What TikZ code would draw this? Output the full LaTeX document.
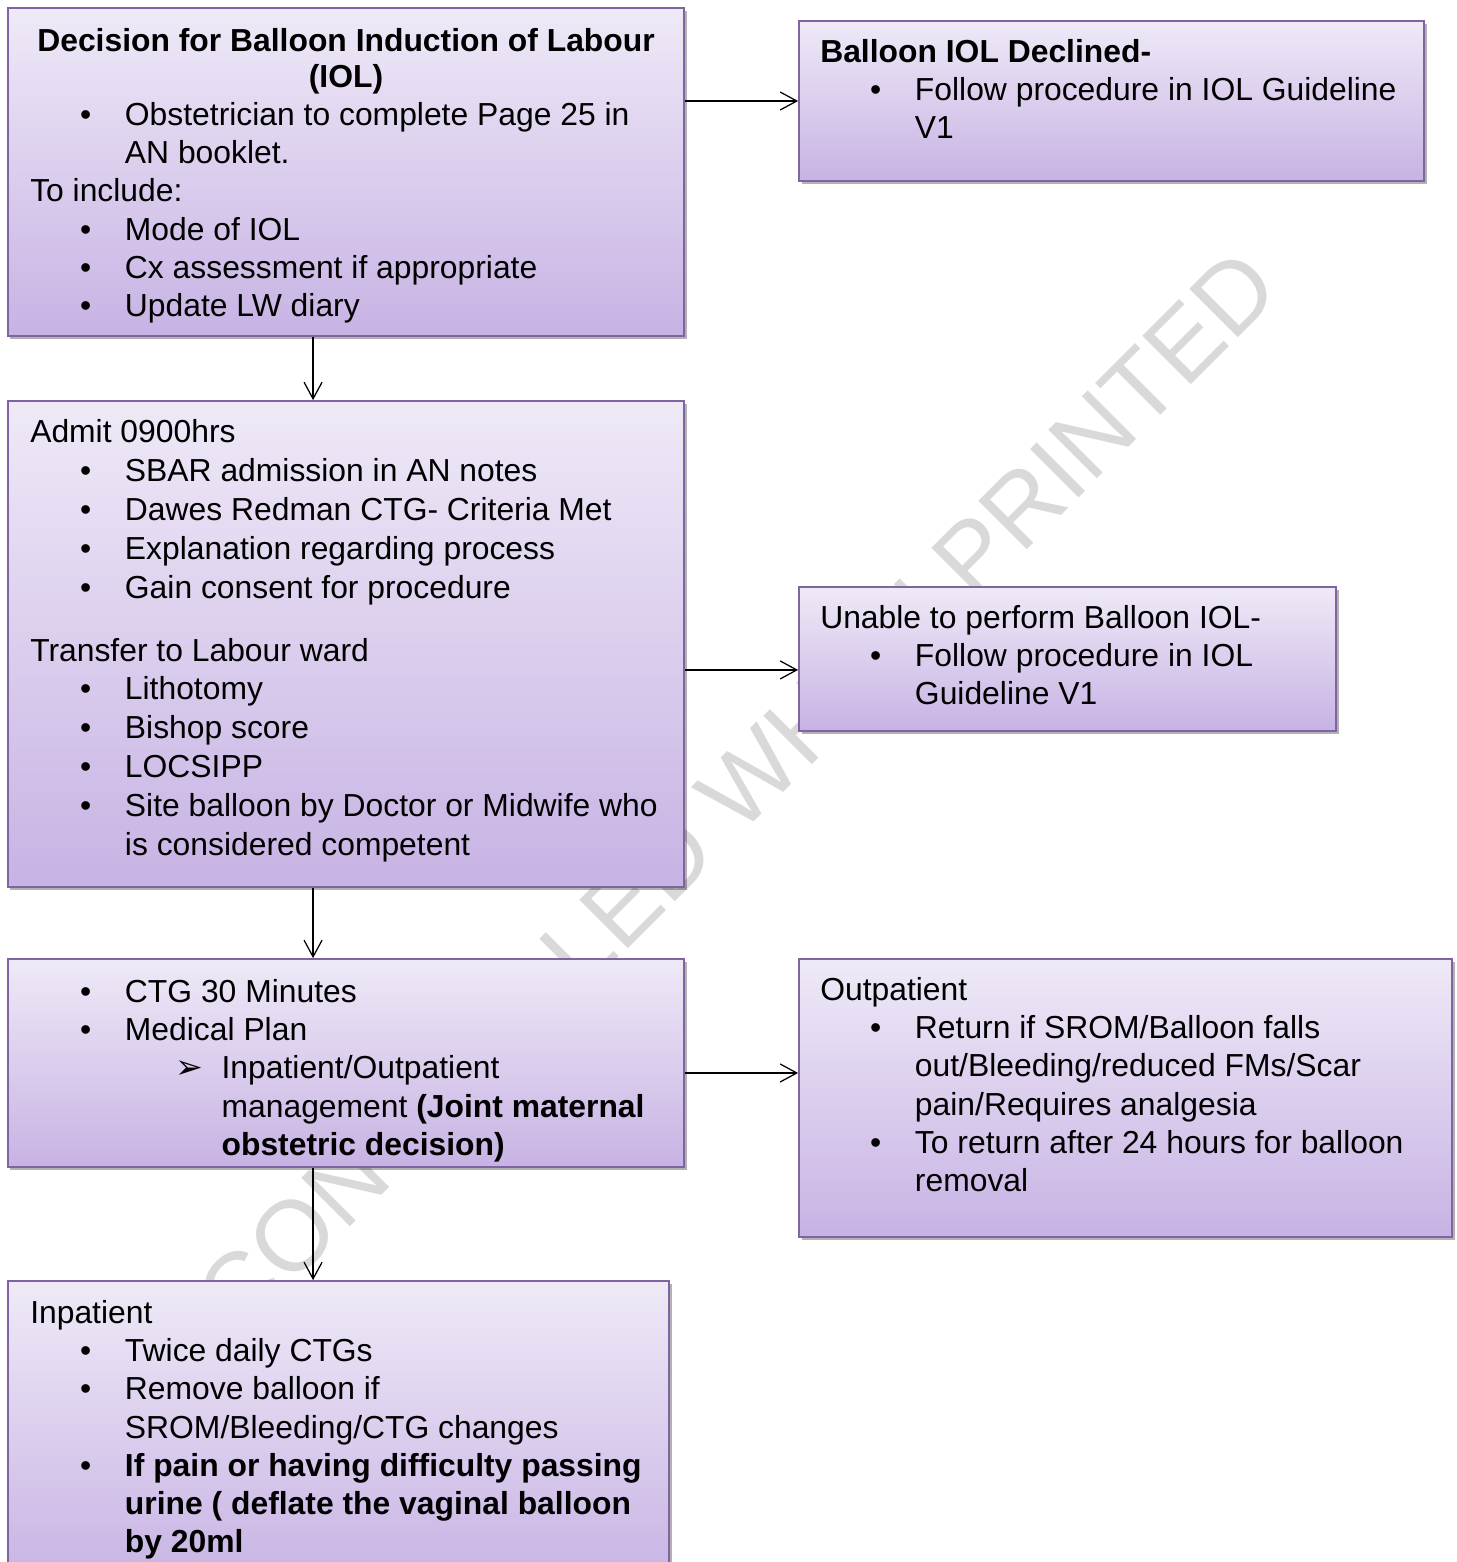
\documentclass[tikz,border=0pt]{standalone}
\usepackage{fontspec}
\setmainfont{Liberation Sans}
\newfontfamily\symfont{DejaVu Sans}
\usepackage{xcolor}
\usepackage{tikz}
\usetikzlibrary{arrows.meta,fit,shadows}

\definecolor{boxtop}{HTML}{EFE9F7}
\definecolor{boxbot}{HTML}{C7B3E4}
\definecolor{boxline}{HTML}{8064A2}
\definecolor{wmgray}{HTML}{D9D9D9}

\newcommand{\bul}{\hspace*{36pt}\makebox[32.4pt][l]{\textbullet}}
\newcommand{\cnt}{\hspace*{68.4pt}}
\newcommand{\subb}{\hspace*{105pt}\makebox[33.2pt][l]{\symfont\fontsize{24}{28}\selectfont ➢}}
\newcommand{\subc}{\hspace*{138.2pt}}
\newcommand{\topstrut}{\rule{0pt}{20pt}}

\tikzset{
  box/.style={draw=boxline, line width=1.3pt, top color=boxtop, bottom color=boxbot,
    inner sep=0pt, drop shadow={shadow xshift=1.8pt, shadow yshift=-2.2pt, opacity=0.3, fill=black}},
  txt/.style={anchor=north west, align=left, inner sep=0pt, font=\fontsize{23}{27.6}\selectfont,
    execute at begin node=\topstrut},
  head/.style={anchor=north, align=center, inner sep=0pt, font=\fontsize{23}{26}\selectfont\bfseries,
    execute at begin node=\topstrut},
  wmark/.style={text=wmgray, inner sep=0pt, font=\fontsize{72}{80}\selectfont},
  arr/.style={->, line width=0.9pt}
}

\begin{document}
\begin{tikzpicture}[x=0.01in,y=-0.01in,>={Straight Barb[length=12pt,width=13pt]}]
  \useasboundingbox[fill=white] (0,0) rectangle (1456,1562);

  \node[wmark, rotate=45] (wm) at (686,842) {UNCONTROLLED WHEN PRINTED};

  \node[box, fit={(8,8) (684,336)}] (dec) {};
  \node[box, fit={(799,21) (1424,181)}] (decl) {};
  \node[box, fit={(8,401) (684,887)}] (adm) {};
  \node[box, fit={(799,587) (1336,731)}] (una) {};
  \node[box, fit={(8,959) (684,1167)}] (ctg) {};
  \node[box, fit={(799,959) (1452,1237)}] (outp) {};
  \node[box, fit={(8,1281) (669,1585)}] (inp) {};

  \node[head] (decH) at (346,28.2) {Decision for Balloon Induction of Labour\\(IOL)};
  \node[txt] (decT) at (30,102.2) {\bul Obstetrician to complete Page 25 in\\
    \cnt AN booklet.\\
    To include:\\
    \bul Mode of IOL\\
    \bul Cx assessment if appropriate\\
    \bul Update LW diary};

  \node[txt] (declT) at (820,39.2) {\textbf{Balloon IOL Declined-}\\
    \bul Follow procedure in IOL Guideline\\
    \cnt V1};

  \node[txt, font=\fontsize{23}{28.1}\selectfont] (admT) at (30,419.2) {Admit 0900hrs\\
    \bul SBAR admission in AN notes\\
    \bul Dawes Redman CTG- Criteria Met\\
    \bul Explanation regarding process\\
    \bul Gain consent for procedure\\[17.3pt]
    Transfer to Labour ward\\
    \bul Lithotomy\\
    \bul Bishop score\\
    \bul LOCSIPP\\
    \bul Site balloon by Doctor or Midwife who\\
    \cnt is considered competent};

  \node[txt] (unaT) at (820,605.2) {Unable to perform Balloon IOL-\\
    \bul Follow procedure in IOL\\
    \cnt Guideline V1};

  \node[txt] (ctgT) at (30,979.2) {\bul CTG 30 Minutes\\
    \bul Medical Plan\\
    \subb Inpatient/Outpatient\\
    \subc management \textbf{(Joint maternal}\\
    \subc \textbf{obstetric decision)}};

  \node[txt] (outpT) at (820,977.2) {Outpatient\\
    \bul Return if SROM/Balloon falls\\
    \cnt out/Bleeding/reduced FMs/Scar\\
    \cnt pain/Requires analgesia\\
    \bul To return after 24 hours for balloon\\
    \cnt removal};

  \node[txt] (inpT) at (30,1300.2) {Inpatient\\
    \bul Twice daily CTGs\\
    \bul Remove balloon if\\
    \cnt SROM/Bleeding/CTG changes\\
    \bul \textbf{If pain or having difficulty passing}\\
    \cnt \textbf{urine ( deflate the vaginal balloon}\\
    \cnt \textbf{by 20ml}};

  \coordinate (unaIn) at ([yshift=-7.9pt]una.west);
  \coordinate (ctgOut) at ([yshift=-7.2pt]ctg.east);

  \draw[arr] (dec.east |- decl.west) -- (decl.west);
  \draw[arr] ([xshift=-23.8pt]dec.south) -- ([xshift=-23.8pt]dec.south |- adm.north);
  \draw[arr] (adm.east |- unaIn) -- (unaIn);
  \draw[arr] ([xshift=-23.8pt]adm.south) -- ([xshift=-23.8pt]adm.south |- ctg.north);
  \draw[arr] (ctgOut) -- (ctgOut -| outp.west);
  \draw[arr] ([xshift=-23.8pt]ctg.south) -- ([xshift=-23.8pt]ctg.south |- inp.north);
\end{tikzpicture}
\end{document}
